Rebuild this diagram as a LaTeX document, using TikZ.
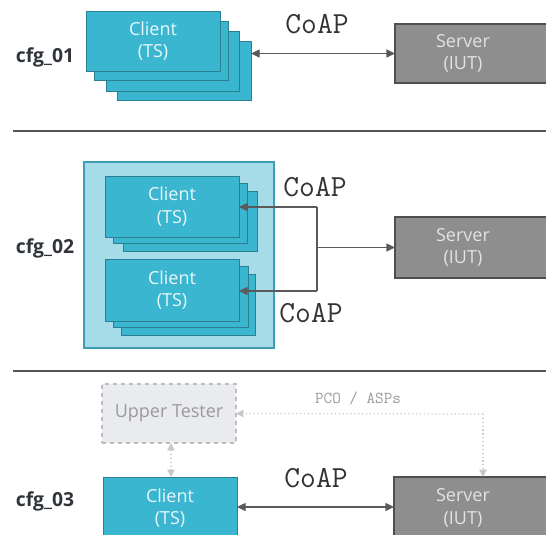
\documentclass[tikz,border=0pt]{standalone}
\usepackage{fontspec}
\setmainfont{Open Sans}
\usetikzlibrary{arrows.meta}
\definecolor{clientfill}{HTML}{3AB6D0}
\definecolor{clientdraw}{HTML}{2A7F93}
\definecolor{outerfill}{HTML}{A6DCE8}
\definecolor{outerdraw}{HTML}{3C9DB3}
\definecolor{serverfill}{HTML}{8E8E8E}
\definecolor{serverdraw}{HTML}{4F4F4F}
\definecolor{servertext}{HTML}{E2E2E2}
\definecolor{clienttext}{HTML}{E8F7FB}
\definecolor{labcol}{HTML}{30353C}
\definecolor{sepcol}{HTML}{555555}
\definecolor{utfill}{HTML}{E9EBEF}
\definecolor{utdraw}{HTML}{BDBDBD}
\definecolor{uttext}{HTML}{9A9A9A}
\definecolor{dotcol}{HTML}{C8C8C8}
\definecolor{arrcol}{HTML}{5A5A5A}
\newcommand{\mybox}[7]{\node[#1, minimum width={(#5-#3)*0.75pt}, minimum height={(#6-#4)*0.75pt}] (#2) at ({(#3+#5)/2},{(#4+#6)/2}) {#7};}
\tikzset{
  client/.style={draw=clientdraw, fill=clientfill, line width=0.7pt, inner sep=0pt, outer sep=0pt,
    text=clienttext, align=center, font=\fontsize{13.5}{17}\selectfont},
  stackbox/.style={client},
  outerbox/.style={draw=outerdraw, fill=outerfill, line width=0.8pt, inner sep=0pt, outer sep=0pt},
  server/.style={draw=serverdraw, fill=serverfill, line width=0.9pt, inner sep=0pt, outer sep=0pt},
  srvtext/.style={text=servertext, align=center, font=\fontsize{13.5}{17}\selectfont},
  utbox/.style={draw=utdraw, fill=utfill, dashed, line width=0.8pt, inner sep=0pt, outer sep=0pt,
    text=uttext, font=\fontsize{13.5}{17}\selectfont},
  cfg/.style={text=labcol, font=\fontsize{14.5}{17}\selectfont\bfseries},
  coap/.style={text=black!80, font=\fontsize{23}{26}\selectfont\ttfamily},
  pco/.style={text=uttext, font=\fontsize{12.5}{14}\selectfont\ttfamily},
  arr/.style={draw=arrcol, line width=1pt, arrows={-Triangle[length=6.5pt,width=6pt]}},
  darr/.style={draw=arrcol, line width=1pt, arrows={Triangle[length=6.5pt,width=6pt]-Triangle[length=6.5pt,width=6pt]}},
  line/.style={draw=arrcol, line width=1pt},
  dotarr/.style={draw=dotcol, line width=0.9pt, dotted, arrows={-Triangle[length=5.5pt,width=5.5pt]}},
  dotdarr/.style={draw=dotcol, line width=0.9pt, dotted, arrows={Triangle[length=5.5pt,width=5.5pt]-Triangle[length=5.5pt,width=5.5pt]}},
  sep/.style={draw=sepcol, line width=1.6pt}
}
\begin{document}
\begin{tikzpicture}[x=0.75pt,y=-0.75pt]
\useasboundingbox (0,0) rectangle (546,535);
\clip (0,0) rectangle (546,535);
\fill[white] (0,0) rectangle (546,535);

% ---------- cfg_01 ----------
\node[cfg] (l1) at (45,57) {cfg\_01};
\mybox{stackbox}{c1d}{117}{41}{251}{100}{}
\mybox{stackbox}{c1c}{106}{31}{239}{91}{}
\mybox{stackbox}{c1b}{94}{21}{228}{80}{}
\mybox{client}{c1}{86}{11}{220}{71}{Client\\(TS)}
\mybox{server}{s1}{395}{24}{560}{83}{}
\node[srvtext] (s1t) at (463,53.5) {Server\\(IUT)};
\node[coap] (p1) at (317,24) {CoAP};
\draw[darr] (s1.west -| c1d.east) -- (s1.west);

\coordinate (sa1) at (13,131);
\coordinate (sb1) at (546,131);
\draw[sep] (sa1) -- (sb1);

% ---------- cfg_02 ----------
\node[cfg] (l2) at (45,248) {cfg\_02};
\mybox{outerbox}{o2}{84}{162}{274}{348}{}
\mybox{stackbox}{c2c}{123}{191}{257}{251}{}
\mybox{stackbox}{c2b}{113}{183}{247}{243}{}
\mybox{client}{c2}{105}{176}{239}{237}{Client\\(TS)}
\mybox{stackbox}{c3c}{121}{274}{255}{335}{}
\mybox{stackbox}{c3b}{113}{266}{248}{327}{}
\mybox{client}{c3}{105}{259}{239}{321}{Client\\(TS)}
\mybox{server}{s2}{395}{217}{560}{278}{}
\node[srvtext] (s2t) at (463,247.5) {Server\\(IUT)};
\coordinate (ja) at (317,207);
\coordinate (jb) at (317,291);
\coordinate (jm) at (317,247.5);
\draw[line] (ja) -- (jb);
\draw[arr] (jm) -- (s2.west);
\draw[arr] (ja) -- (ja -| c2.east);
\draw[arr] (jb) -- (jb -| c3.east);
\node[coap] (p2) at (315,187) {CoAP};
\node[coap] (p3) at (311,313) {CoAP};

\coordinate (sa2) at (13,371);
\coordinate (sb2) at (546,371);
\draw[sep] (sa2) -- (sb2);

% ---------- cfg_03 ----------
\node[cfg] (l3) at (45,501) {cfg\_03};
\mybox{utbox}{ut}{102}{384}{236}{443}{Upper Tester}
\mybox{client}{c4}{103}{477}{237}{539}{Client\\(TS)}
\mybox{server}{s3}{394}{477}{560}{539}{}
\node[srvtext] (s3t) at (463,508) {Server\\(IUT)};
\node[coap] (p4) at (316,478) {CoAP};
\node[pco] (pco) at (358,398) {PCO / ASPs};
\coordinate (jc) at (483,414);
\draw[dotarr] (jc) -- (ut.east);
\draw[dotarr] (jc) -- (jc |- s3.north);
\draw[dotdarr] (ut.south -| 171,0) -- (c4.north -| 171,0);
\draw[darr] (c4.east |- 0,507) -- (s3.west |- 0,507);
\end{tikzpicture}
\end{document}
